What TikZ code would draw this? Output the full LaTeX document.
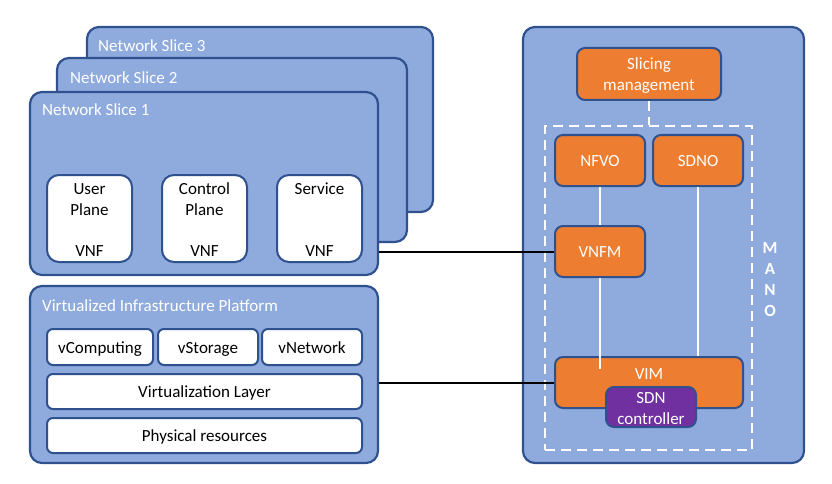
\documentclass[tikz,border=0pt]{standalone}
\usepackage{fontspec}
\setmainfont{Carlito}
\begin{document}
\definecolor{panelfill}{HTML}{8FAADC}
\definecolor{edgeblue}{HTML}{2F528F}
\definecolor{orangefill}{HTML}{ED7D31}
\definecolor{purplefill}{HTML}{7030A0}
\begin{tikzpicture}[x=1pt,y=-1pt,
  every node/.style={font=\fontsize{17}{21}\selectfont, inner sep=0pt},
  oneline/.style={text height=15pt, text depth=3pt},
  panel/.style={draw=edgeblue, fill=panelfill, line width=2.2pt, rounded corners=12pt},
  vnfbox/.style={draw=edgeblue, fill=white, line width=2pt, rounded corners=12pt},
  whitebox/.style={draw=edgeblue, fill=white, line width=2pt, rounded corners=6pt, oneline},
  orangebox/.style={draw=edgeblue, fill=orangefill, line width=2pt, rounded corners=8pt, text=white},
  purplebox/.style={draw=edgeblue, fill=purplefill, line width=2pt, rounded corners=8pt, text=white},
  title/.style={text=white, anchor=west, oneline},
  wlink/.style={draw=white, line width=2pt},
  blink/.style={draw=black, line width=2pt}]
\useasboundingbox (0,0) rectangle (832,484);

% stacked network slices
\node[panel, minimum width=346pt, minimum height=185pt] (s3) at (260,119.5) {};
\node[title] (s3t) at (98,46) {Network Slice 3};
\node[panel, minimum width=350pt, minimum height=184pt] (s2) at (232,150) {};
\node[title] (s2t) at (70,78) {Network Slice 2};
\node[panel, minimum width=348pt, minimum height=183pt] (s1) at (204,183.5) {};
\node[title] (s1t) at (42,110) {Network Slice 1};

% VNFs inside slice 1
\node[vnfbox, minimum width=85pt, minimum height=87pt] (up) at (89.5,218.5) {};
\node[oneline] (upt1) at (89.5,188) {User};
\node[oneline] (upt2) at (89.5,209) {Plane};
\node[oneline] (upv) at (89.5,250) {VNF};
\node[vnfbox, minimum width=85pt, minimum height=87pt] (cp) at (204.5,218.5) {};
\node[oneline] (cpt1) at (204.5,188) {Control};
\node[oneline] (cpt2) at (204.5,209) {Plane};
\node[oneline] (cpv) at (204.5,250) {VNF};
\node[vnfbox, minimum width=85pt, minimum height=87pt] (sv) at (319.5,218.5) {};
\node[oneline] (svt) at (319.5,188) {Service};
\node[oneline] (svv) at (319.5,250) {VNF};

% virtualized infrastructure platform
\node[panel, minimum width=348pt, minimum height=177pt] (vip) at (204,374.5) {};
\node[title] (vipt) at (42,305) {Virtualized Infrastructure Platform};
\node[whitebox, minimum width=106pt, minimum height=36pt] (vc) at (100,347) {vComputing};
\node[whitebox, minimum width=100pt, minimum height=36pt] (vs) at (208,347) {vStorage};
\node[whitebox, minimum width=100pt, minimum height=36pt] (vn) at (312,347) {vNetwork};
\node[whitebox, minimum width=315pt, minimum height=35pt] (vl) at (204.5,391.5) {Virtualization Layer};
\node[whitebox, minimum width=315pt, minimum height=35pt] (pr) at (204.5,435.5) {Physical resources};

% MANO panel
\node[panel, minimum width=281pt, minimum height=436pt] (mano) at (663.5,245) {};
\node[orangebox, minimum width=144pt, minimum height=52pt] (slm) at (649,74) {};
\node[text=white, oneline] (slm1) at (649,64) {Slicing};
\node[text=white, oneline] (slm2) at (649,85) {management};
\node[draw=white, line width=2.2pt, dash pattern=on 10pt off 6pt, minimum width=207pt, minimum height=324pt] (mframe) at (648.5,288) {};
\draw[draw=white, line width=2.2pt, dash pattern=on 10pt off 6pt] (slm.south) -- (slm.south |- mframe.north);
\node[orangebox, oneline, minimum width=90pt, minimum height=51pt] (nfvo) at (600,160.5) {NFVO};
\node[orangebox, oneline, minimum width=90pt, minimum height=51pt] (sdno) at (698,160.5) {SDNO};
\node[orangebox, oneline, minimum width=90pt, minimum height=51pt] (vnfm) at (600,251.5) {VNFM};
\node[orangebox, minimum width=188pt, minimum height=51pt] (vim) at (649,382.5) {};
\node[text=white, oneline] (vimt) at (649,373) {VIM};
\coordinate (viminner) at (600,369);
\draw[wlink] (nfvo.south) -- (vnfm.north);
\draw[wlink] (vnfm.south) -- (viminner);
\draw[wlink] (sdno.south) -- (sdno.south |- vim.north);
\node[purplebox, minimum width=90pt, minimum height=40pt] (sdn) at (651,407) {};
\node[text=white, oneline] (sdn1) at (651,397) {SDN};
\node[text=white, oneline] (sdn2) at (651,418) {controller};
\node[text=white, align=center, font=\fontsize{17}{21}\selectfont\bfseries] (manot) at (770,280) {M\\A\\N\\O};

% links between the left blocks and MANO
\draw[blink] (s1.east |- vnfm.west) -- (vnfm.west);
\draw[blink] (vip.east |- vim.west) -- (vim.west);
\end{tikzpicture}
\end{document}
